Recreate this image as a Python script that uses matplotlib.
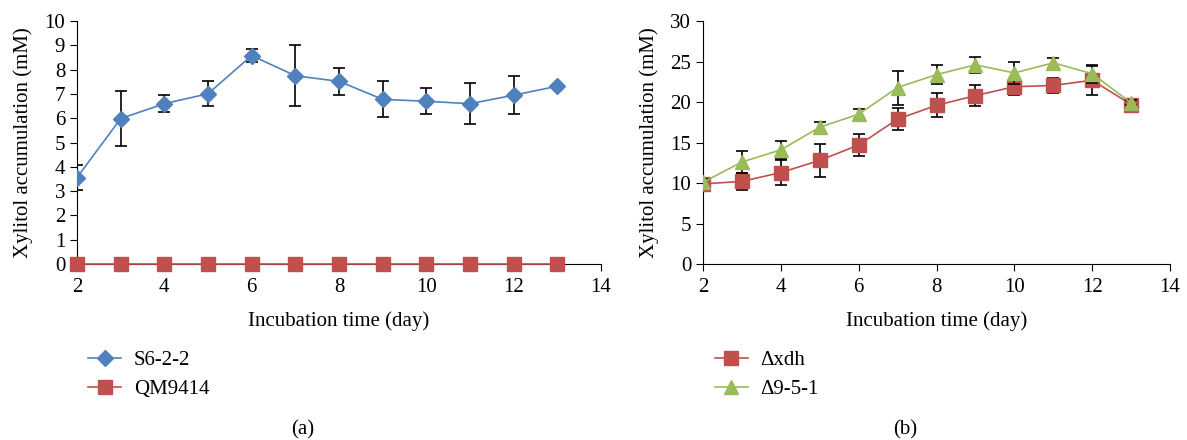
import matplotlib.pyplot as plt
from matplotlib.lines import Line2D

plt.rcParams['font.family'] = ['Liberation Serif', 'DejaVu Serif']

days = [2, 3, 4, 5, 6, 7, 8, 9, 10, 11, 12, 13]

# panel (a)
s6_mean = [3.56, 5.99, 6.60, 7.01, 8.58, 7.75, 7.52, 6.78, 6.70, 6.60, 6.95, 7.32]
s6_err = [0.53, 1.12, 0.36, 0.52, 0.26, 1.26, 0.57, 0.74, 0.54, 0.84, 0.77, 0.0]
qm_mean = [0, 0, 0, 0, 0, 0, 0, 0, 0, 0, 0, 0]

# panel (b)
xdh_mean = [9.9, 10.2, 11.3, 12.8, 14.7, 17.9, 19.6, 20.8, 21.9, 22.05, 22.7, 19.7]
xdh_err = [0.3, 1.1, 1.5, 2.0, 1.4, 1.4, 1.5, 1.3, 1.0, 0.9, 1.8, 0.3]
d951_mean = [10.1, 12.6, 14.1, 16.9, 18.5, 21.8, 23.4, 24.6, 23.6, 24.85, 23.5, 19.9]
d951_err = [0.4, 1.3, 1.1, 0.6, 0.6, 2.1, 1.2, 1.0, 1.4, 0.6, 1.1, 0.3]

blue = '#4F81BD'
red = '#C0504D'
green = '#9BBB59'

fig = plt.figure(figsize=(11.87, 4.4), dpi=100)
ax1 = fig.add_axes([0.0649, 0.40, 0.4414, 0.552])
ax2 = fig.add_axes([0.5923, 0.40, 0.3934, 0.552])

err_kw = dict(ecolor='black', elinewidth=1.2, capsize=4, capthick=1.2)
fs = 15

# Panel (a)
ax1.errorbar(days, s6_mean, yerr=s6_err, color=blue, marker='D', markersize=8,
             linewidth=1.2, zorder=3, **err_kw)
ax1.plot(days, qm_mean, color=red, marker='s', markersize=10, linewidth=1.2,
         zorder=4, clip_on=False)
ax1.set_xlim(2, 14)
ax1.set_ylim(0, 10)
ax1.set_xticks(range(2, 15, 2))
ax1.set_yticks(range(0, 11))

# Panel (b)
ax2.errorbar(days, xdh_mean, yerr=xdh_err, color=red, marker='s', markersize=10,
             linewidth=1.2, zorder=3, **err_kw)
ax2.errorbar(days, d951_mean, yerr=d951_err, color=green, marker='^', markersize=10,
             linewidth=1.2, zorder=4, **err_kw)
ax2.set_xlim(2, 14)
ax2.set_ylim(0, 30)
ax2.set_xticks(range(2, 15, 2))
ax2.set_yticks(range(0, 31, 5))

for ax in (ax1, ax2):
    ax.spines['top'].set_visible(False)
    ax.spines['right'].set_visible(False)
    ax.tick_params(direction='out', labelsize=fs, length=5)
    ax.tick_params(axis='x', pad=5)
    ax.set_xlabel('Incubation time (day)', fontsize=fs, labelpad=10)
    ax.set_ylabel('Xylitol accumulation (mM)', fontsize=fs, labelpad=8)

def handle(color, marker, ms):
    return Line2D([], [], color=color, marker=marker, markersize=ms, linewidth=1.2)

leg_kw = dict(loc='upper left', bbox_to_anchor=(-0.015, -0.28), frameon=False,
              fontsize=fs, handlelength=1.6, labelspacing=0.45, handletextpad=0.6)
ax1.legend([handle(blue, 'D', 8), handle(red, 's', 10)], ['S6-2-2', 'QM9414'], **leg_kw)
ax2.legend([handle(red, 's', 10), handle(green, '^', 10)], ['\u0394xdh', '\u03949-5-1'], **leg_kw)

fig.text(303 / 1187, 1 - 430 / 440, '(a)', ha='center', va='center', fontsize=fs)
fig.text(905 / 1187, 1 - 430 / 440, '(b)', ha='center', va='center', fontsize=fs)

plt.savefig('out.png', dpi=100)
